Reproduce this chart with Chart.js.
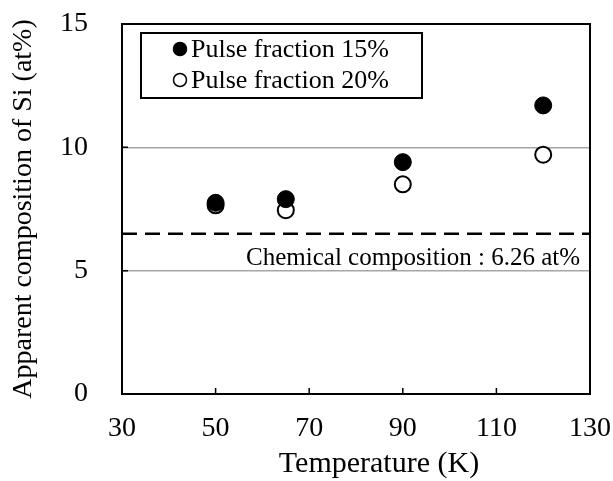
<!DOCTYPE html>
<html>
<head>
<meta charset="utf-8">
<script src="https://cdn.jsdelivr.net/npm/chart.js@4/dist/chart.umd.min.js"></script>
<style>
  html, body { margin: 0; padding: 0; background: #fff; }
  #wrap { width: 613px; height: 481px; }
</style>
</head>
<body>
<div id="wrap"><canvas id="chart" width="613" height="481"></canvas></div>
<script>
// Ma'lumotlar (rasmdan o'qilgan)
const temperatures = [50, 65, 90, 120];
const pulse15 = [7.75, 7.9, 9.4, 11.7];
const pulse20 = [7.65, 7.45, 8.5, 9.7];
const chemLevel = 6.5;
const chemText = 'Chemical composition : 6.26 at%';
const xTicks = [30, 50, 70, 90, 110, 130];
const yTicks = [0, 5, 10, 15];

const SERIF = '"Liberation Serif", "Times New Roman", serif';

// o'qlar qo'shimcha bo'sh joy qo'shmasin
function noPad(s) {
    s.paddingTop = 0;
    s.paddingBottom = 0;
    s.paddingLeft = 0;
    s.paddingRight = 0;
}

// Ramka, ichki tiklar, legend va izoh
const framePlugin = {
    id: 'frame',
    afterDraw(chart) {
        const ctx = chart.ctx;
        const a = chart.chartArea;
        const xs = chart.scales.x;
        const ys = chart.scales.y;
        ctx.save();
        ctx.strokeStyle = '#000';
        ctx.lineWidth = 2;
        ctx.strokeRect(a.left, a.top, a.right - a.left, a.bottom - a.top);

        // ichki tiklar
        ctx.lineWidth = 1.5;
        ctx.beginPath();
        xs.ticks.forEach(t => {
            if (t.value === xs.min || t.value === xs.max) return;
            const px = xs.getPixelForValue(t.value);
            ctx.moveTo(px, a.bottom);
            ctx.lineTo(px, a.bottom - 6);
        });
        ys.ticks.forEach(t => {
            if (t.value === ys.min || t.value === ys.max) return;
            const py = ys.getPixelForValue(t.value);
            ctx.moveTo(a.left, py);
            ctx.lineTo(a.left + 6, py);
        });
        ctx.stroke();

        // izoh matni
        ctx.fillStyle = '#000';
        ctx.font = '25px ' + SERIF;
        ctx.textAlign = 'right';
        ctx.textBaseline = 'alphabetic';
        ctx.fillText(chemText, a.right - 10, ys.getPixelForValue(chemLevel) + 31);

        // x o'qi sarlavhasi
        ctx.font = '30px ' + SERIF;
        ctx.textAlign = 'center';
        ctx.textBaseline = 'middle';
        ctx.fillText('Temperature (K)', (a.left + a.right) / 2 + 23, 464);

        // legend
        const bx = a.left + 19, by = a.top + 9, bw = 281, bh = 65;
        ctx.lineWidth = 2;
        ctx.strokeRect(bx, by, bw, bh);
        ctx.font = '26px ' + SERIF;
        ctx.textAlign = 'left';
        const items = chart.data.datasets.filter(d => d.inLegend);
        items.forEach((d, i) => {
            const cy = by + 16 + i * 31;
            ctx.beginPath();
            ctx.arc(bx + 39, cy, 6.5, 0, Math.PI * 2);
            ctx.fillStyle = d.backgroundColor;
            ctx.fill();
            ctx.lineWidth = 1.5;
            ctx.strokeStyle = '#000';
            ctx.stroke();
            ctx.fillStyle = '#000';
            ctx.fillText(d.label, bx + 50, cy + 1);
        });
        ctx.restore();
    }
};

new Chart(document.getElementById('chart'), {
    type: 'scatter',
    data: {
        datasets: [
            {
                label: 'Pulse fraction 15%',
                inLegend: true,
                data: temperatures.map((t, i) => ({ x: t, y: pulse15[i] })),
                backgroundColor: '#000',
                borderColor: '#000',
                borderWidth: 1,
                pointRadius: 8.5,
                order: 1
            },
            {
                label: 'Pulse fraction 20%',
                inLegend: true,
                data: temperatures.map((t, i) => ({ x: t, y: pulse20[i] })),
                backgroundColor: '#fff',
                borderColor: '#000',
                borderWidth: 2,
                pointRadius: 8,
                order: 2
            },
            {
                type: 'line',
                label: 'Chemical composition',
                data: [{ x: xTicks[0], y: chemLevel }, { x: xTicks[xTicks.length - 1], y: chemLevel }],
                borderColor: '#000',
                borderWidth: 2.5,
                borderDash: [15, 8],
                pointRadius: 0,
                order: 3
            }
        ]
    },
    options: {
        responsive: false,
        animation: false,
        layout: { padding: { top: 24, right: 23, left: 0, bottom: 0 } },
        plugins: {
            legend: { display: false },
            tooltip: { enabled: false }
        },
        scales: {
            x: {
                type: 'linear',
                min: xTicks[0],
                max: xTicks[xTicks.length - 1],
                afterBuildTicks: s => { s.ticks = xTicks.map(v => ({ value: v })); },
                afterFit: s => { s.height = 87; noPad(s); },
                grid: { display: false, drawTicks: false },
                border: { display: true, color: '#000', width: 2 },
                ticks: {
                    padding: 18,
                    color: '#000',
                    font: { family: SERIF, size: 28 }
                }
            },
            y: {
                min: yTicks[0],
                max: yTicks[yTicks.length - 1],
                afterBuildTicks: s => { s.ticks = yTicks.map(v => ({ value: v })); },
                afterFit: s => { s.width = 122; noPad(s); },
                grid: {
                    drawTicks: false,
                    lineWidth: 1.5,
                    color: c => (c.tick.value === 0 || c.tick.value === 15) ? 'rgba(0,0,0,0)' : '#a6a6a6'
                },
                border: { display: true, color: '#000', width: 2 },
                ticks: {
                    padding: 34,
                    color: '#000',
                    font: { family: SERIF, size: 28 }
                },
                title: {
                    display: true,
                    text: 'Apparent composition of Si (at%)',
                    color: '#000',
                    padding: { top: 7, bottom: 0 },
                    font: { family: SERIF, size: 28 }
                }
            }
        }
    },
    plugins: [framePlugin]
});
</script>
</body>
</html>
